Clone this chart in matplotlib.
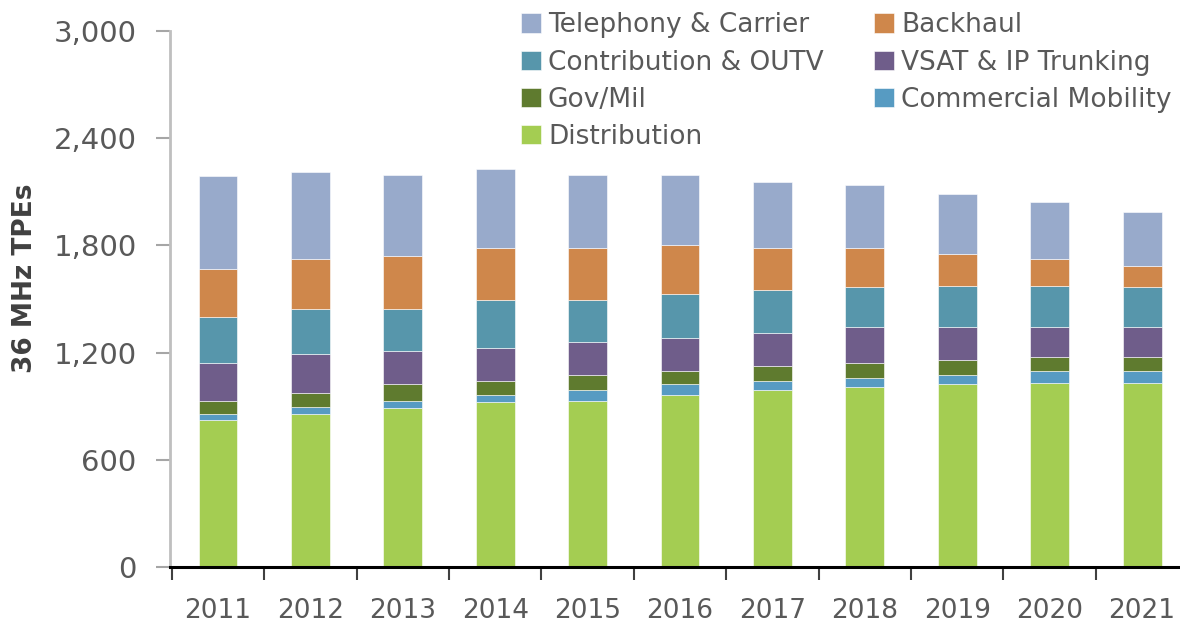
import numpy as np
import matplotlib
matplotlib.use("Agg")
import matplotlib.pyplot as plt

plt.rcParams['font.family'] = ['DejaVu Sans']

years = ['2011', '2012', '2013', '2014', '2015', '2016', '2017', '2018', '2019', '2020', '2021']

# stacked from bottom to top
distribution = [825, 855, 890, 922, 930, 963, 989, 1006, 1023, 1030, 1030]
commercial_mobility = [30, 41, 40, 41, 61, 60, 51, 51, 50, 68, 68]
gov_mil = [75, 77, 93, 77, 82, 75, 84, 84, 84, 76, 76]
vsat_ip = [211, 218, 185, 185, 185, 184, 185, 201, 185, 168, 168]
contribution = [259, 252, 235, 268, 235, 247, 240, 224, 233, 233, 224]
backhaul = [267, 282, 299, 292, 292, 272, 236, 219, 176, 150, 118]
telephony = [519, 487, 453, 444, 410, 394, 369, 352, 336, 319, 302]

series = [
    ('Distribution', distribution, '#A4CD52'),
    ('Commercial Mobility', commercial_mobility, '#579BC2'),
    ('Gov/Mil', gov_mil, '#5F7B2F'),
    ('VSAT & IP Trunking', vsat_ip, '#6F5D8A'),
    ('Contribution & OUTV', contribution, '#5796AB'),
    ('Backhaul', backhaul, '#CF874B'),
    ('Telephony & Carrier', telephony, '#98AACB'),
]

fig = plt.figure(figsize=(11.8, 6.29), dpi=100)
ax = fig.add_axes([0.144, 0.0986, 0.856, 0.852])

x = np.arange(len(years))
bottom = np.zeros(len(years))
handles = {}
for name, vals, col in series:
    vals = np.array(vals, dtype=float)
    b = ax.bar(x, vals, 0.42, bottom=bottom, color=col, edgecolor='white',
               linewidth=0.4, label=name)
    handles[name] = b
    bottom += vals

ax.set_ylim(0, 3000)
ax.set_xlim(-0.52, 10.41)
ax.set_yticks([0, 600, 1200, 1800, 2400, 3000])
ax.set_yticklabels(['0', '600', '1,200', '1,800', '2,400', '3,000'])
ax.set_xticks(x)
ax.set_xticklabels(years)
ax.set_xticks(np.arange(-0.5, 10.5, 1.0), minor=True)
ax.tick_params(axis='x', which='major', length=0, pad=22, labelsize=19, labelcolor='#595959')
ax.tick_params(axis='x', which='minor', length=9, width=1.5, color='#404040')
ax.tick_params(axis='y', length=10, width=1.5, color='#A6A6A6', pad=14,
               labelsize=21, labelcolor='#595959')

for s in ['top', 'right']:
    ax.spines[s].set_visible(False)
ax.spines['left'].set_color('#BFBFBF')
ax.spines['left'].set_linewidth(2)
ax.spines['bottom'].set_color('black')
ax.spines['bottom'].set_linewidth(2.2)

ax.set_ylabel('36 MHz TPEs', fontsize=19, fontweight='bold', color='#404040')
ax.yaxis.set_label_coords(-0.131, 0.538)

order = ['Telephony & Carrier', 'Contribution & OUTV', 'Gov/Mil', 'Distribution',
         'Backhaul', 'VSAT & IP Trunking', 'Commercial Mobility']
leg = fig.legend([handles[n] for n in order], order, ncol=2, frameon=False,
                 loc='upper left', bbox_to_anchor=(0.421, 1.018), fontsize=19,
                 handlelength=0.76, handleheight=0.76, handletextpad=0.28,
                 columnspacing=1.9, labelspacing=0.42)
for t in leg.get_texts():
    t.set_color('#595959')

fig.savefig('out.png', dpi=100)
